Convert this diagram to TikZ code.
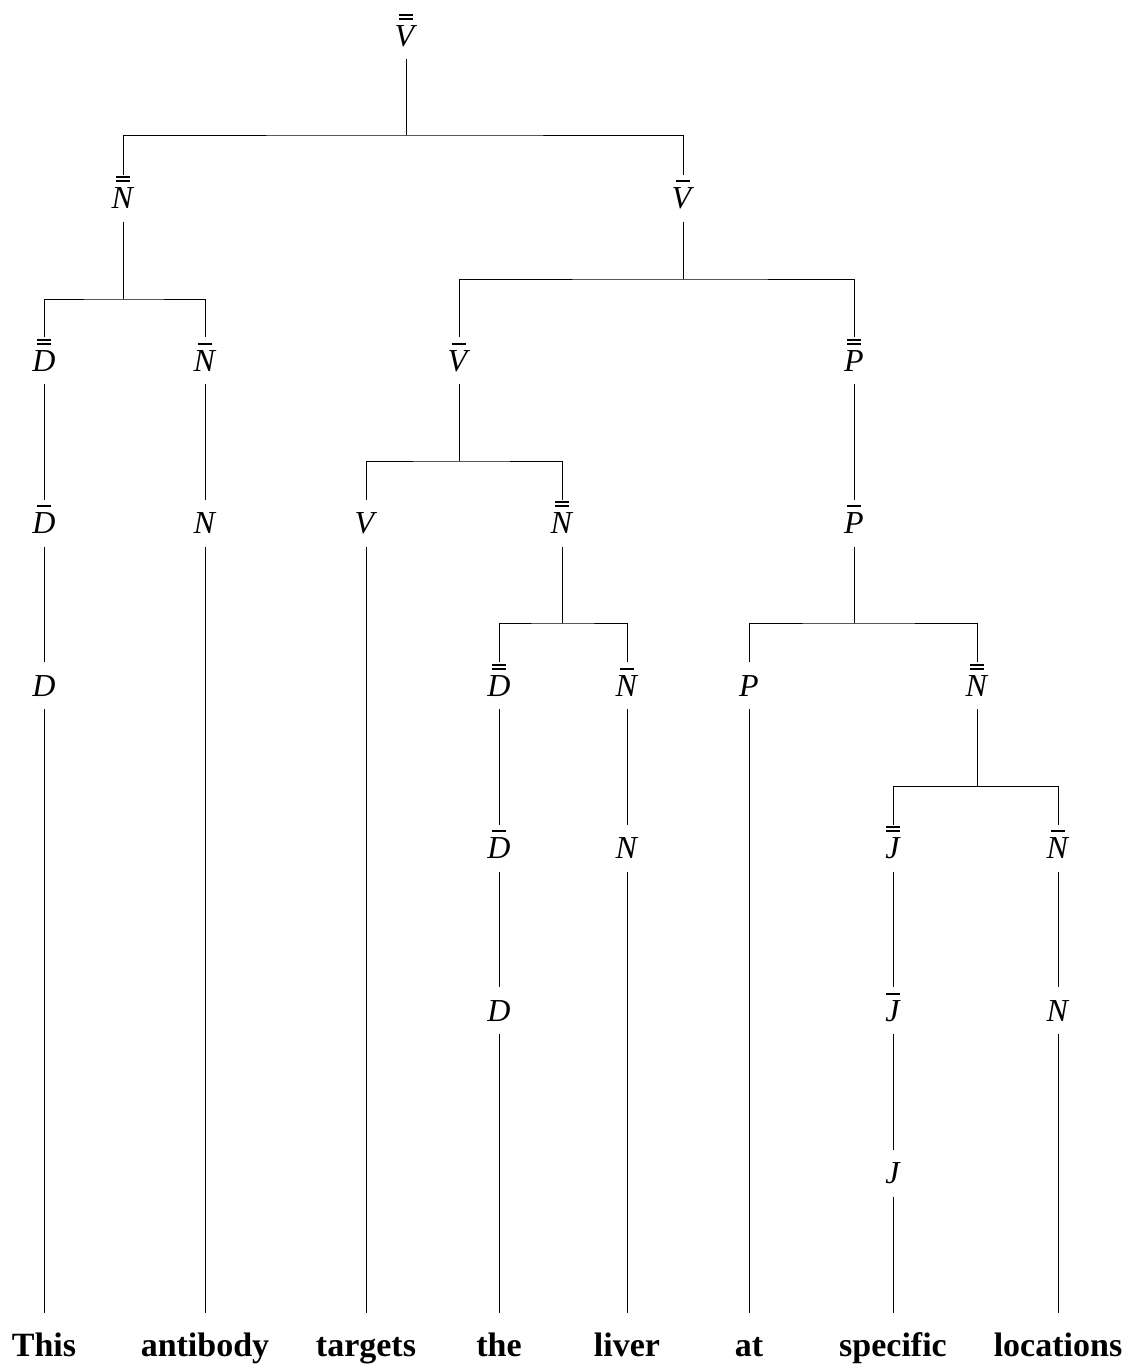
\documentclass[tikz,border=0pt]{standalone}
\usepackage{fontspec}
\setmainfont{Liberation Serif}
\newcommand\Zb[1]{\textit{#1}}
\newcommand\Ob[1]{\vbox{\offinterlineskip\halign{\hfil##\hfil\cr\rule{0.43em}{2pt}\cr\noalign{\kern5.5pt}\textit{#1}\cr}}}
\newcommand\Tb[1]{\vbox{\offinterlineskip\halign{\hfil##\hfil\cr\rule{0.43em}{2pt}\cr\noalign{\kern1.6pt}\rule{0.43em}{2pt}\cr\noalign{\kern5.5pt}\textit{#1}\cr}}}
\tikzset{
  cat/.style={anchor=base, inner sep=0pt, outer sep=0pt, text height=34pt, text depth=13pt, font=\fontsize{32}{36}\selectfont},
  word/.style={anchor=base, inner sep=0pt, outer sep=0pt, text height=43pt, text depth=0pt, font=\fontsize{34}{40}\selectfont\bfseries},
  branch/.style={line width=1pt, black},
}
\begin{document}
\begin{tikzpicture}[x=1pt,y=-1pt]
\useasboundingbox (0,0) rectangle (1130,1366);
% row baselines: 45 + 162.5 k
\node[cat] (r)   at (406,46)    {\Tb{V}};
\node[cat] (n1)  at (123,208.5) {\Tb{N}};
\node[cat] (v1)  at (683,208.5) {\Ob{V}};
\node[cat] (d1)  at (44,371)    {\Tb{D}};
\node[cat] (nb1) at (205,371)   {\Ob{N}};
\node[cat] (v2)  at (459,371)   {\Ob{V}};
\node[cat] (p1)  at (854,371)   {\Tb{P}};
\node[cat] (d1b) at (44,533.5)  {\Ob{D}};
\node[cat] (n1n) at (205,533.5) {\Zb{N}};
\node[cat] (vv)  at (366,533.5) {\Zb{V}};
\node[cat] (n2)  at (562,533.5) {\Tb{N}};
\node[cat] (p2)  at (854,533.5) {\Ob{P}};
\node[cat] (d1c) at (44,696)    {\Zb{D}};
\node[cat] (d2)  at (499,696)   {\Tb{D}};
\node[cat] (nb2) at (627,696)   {\Ob{N}};
\node[cat] (pp)  at (749,696)   {\Zb{P}};
\node[cat] (n3)  at (977,696)   {\Tb{N}};
\node[cat] (d2b) at (499,858.5) {\Ob{D}};
\node[cat] (n2n) at (627,858.5) {\Zb{N}};
\node[cat] (j1)  at (893,858.5) {\Tb{J}};
\node[cat] (nb3) at (1058,858.5){\Ob{N}};
\node[cat] (d2c) at (499,1021)  {\Zb{D}};
\node[cat] (j2)  at (893,1021)  {\Ob{J}};
\node[cat] (n3n) at (1058,1021) {\Zb{N}};
\node[cat] (j3)  at (893,1183.5){\Zb{J}};
% words
\node[word] (w1) at (44,1356)   {This};
\node[word] (w2) at (205,1356)  {antibody};
\node[word] (w3) at (366,1356)  {targets};
\node[word] (w4) at (499,1356)  {the};
\node[word] (w5) at (627,1356)  {liver};
\node[word] (w6) at (749,1356)  {at};
\node[word] (w7) at (893,1356)  {specific};
\node[word] (w8) at (1058,1356) {locations};
% branch points
\coordinate (b0) at (406,135);
\coordinate (b1) at (123,299);
\coordinate (b2) at (683,279);
\coordinate (b3) at (459,461);
\coordinate (b4) at (562,623);
\coordinate (b5) at (854,623);
\coordinate (b6) at (977,786);
% branches
\draw[branch] (r.south) -- (b0);   \draw[branch] (n1.north) |- (b0) -| (v1.north);
\draw[branch] (n1.south) -- (b1);  \draw[branch] (d1.north) |- (b1) -| (nb1.north);
\draw[branch] (v1.south) -- (b2);  \draw[branch] (v2.north) |- (b2) -| (p1.north);
\draw[branch] (v2.south) -- (b3);  \draw[branch] (vv.north) |- (b3) -| (n2.north);
\draw[branch] (n2.south) -- (b4);  \draw[branch] (d2.north) |- (b4) -| (nb2.north);
\draw[branch] (p2.south) -- (b5);  \draw[branch] (pp.north) |- (b5) -| (n3.north);
\draw[branch] (n3.south) -- (b6);  \draw[branch] (j1.north) |- (b6) -| (nb3.north);
% unary chains
\draw[branch] (d1.south) -- (d1b.north);
\draw[branch] (d1b.south) -- (d1c.north);
\draw[branch] (d1c.south) -- (w1.north);
\draw[branch] (nb1.south) -- (n1n.north);
\draw[branch] (n1n.south) -- (w2.north);
\draw[branch] (vv.south) -- (w3.north);
\draw[branch] (p1.south) -- (p2.north);
\draw[branch] (d2.south) -- (d2b.north);
\draw[branch] (d2b.south) -- (d2c.north);
\draw[branch] (d2c.south) -- (w4.north);
\draw[branch] (nb2.south) -- (n2n.north);
\draw[branch] (n2n.south) -- (w5.north);
\draw[branch] (pp.south) -- (w6.north);
\draw[branch] (j1.south) -- (j2.north);
\draw[branch] (j2.south) -- (j3.north);
\draw[branch] (j3.south) -- (w7.north);
\draw[branch] (nb3.south) -- (n3n.north);
\draw[branch] (n3n.south) -- (w8.north);
\end{tikzpicture}
\end{document}
